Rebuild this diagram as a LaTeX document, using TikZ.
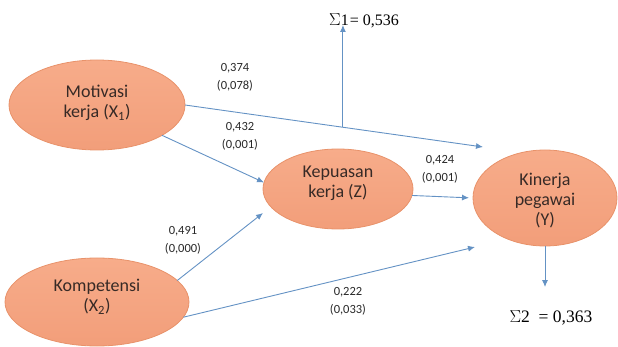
\documentclass[tikz,border=0pt]{standalone}
\usepackage{fontspec}
\setmainfont{Carlito}
\newfontfamily\sigmafont{Liberation Serif}
\usetikzlibrary{arrows.meta,shapes.geometric,calc}
\definecolor{arrowblue}{RGB}{100,146,196}
\definecolor{elltop}{RGB}{247,172,138}
\definecolor{ellbot}{RGB}{242,158,122}
\definecolor{elldraw}{RGB}{232,146,106}
\definecolor{elltext}{RGB}{55,42,38}
\definecolor{labtext}{RGB}{40,40,40}
\begin{document}
\begin{tikzpicture}[x=1pt,y=-1pt,
 var/.style={ellipse, draw=elldraw, line width=0.8pt, top color=elltop, bottom color=ellbot, inner sep=0pt, outer sep=0pt},
 vtext/.style={text=elltext, font=\fontsize{18}{20}\selectfont, align=center, inner sep=0pt},
 coef/.style={text=labtext, font=\fontsize{12.5}{18}\selectfont, align=center, inner sep=0pt},
 sig/.style={font=\sigmafont\fontsize{17.5}{20}\selectfont, inner sep=0pt},
 arr/.style={draw=arrowblue, line width=0.9pt, -{Latex[length=7pt,width=6pt]}}]
\useasboundingbox (0,0) rectangle (618,347);

% variables
\node[var, minimum width=176pt, minimum height=90pt] (mot) at (97,105) {};
\node[vtext] (motT) at (97,103) {Motivasi\\kerja (X\textsubscript{1})};
\node[var, minimum width=150pt, minimum height=80pt] (kep) at (338,189) {};
\node[vtext] (kepT) at (338,183) {Kepuasan\\kerja (Z)};
\node[var, minimum width=144pt, minimum height=96pt] (kin) at (545,198) {};
\node[vtext] (kinT) at (545,201) {Kinerja\\pegawai\\(Y)};
\node[var, minimum width=184pt, minimum height=88pt] (kom) at (97,302) {};
\node[vtext] (komT) at (97,297) {Kompetensi\\(X\textsubscript{2})};

% sums
\node[sig, font=\sigmafont\fontsize{16}{20}\selectfont] (s1) at (364,21) {$\Sigma$1\kern1pt= 0,536};
\node[sig] (s2) at (551,318) {$\Sigma$2\ \ = 0,363};

% free ends
\coordinate (t1) at (483,147);
\coordinate (t2) at (263,213);
\coordinate (t3) at (475,247);
\coordinate (t4) at (545,287);

% connectors
\draw[arr] (mot.east) -- coordinate[pos=0.53] (c1) (t1);
\draw[arr] (c1) -- ($(c1 |- s1.center)+(0,4)$);
\draw[arr] (mot.-25) -- (kep.175);
\draw[arr] (kom.15) -- (t2);
\draw[arr] (kom.-10) -- (t3);
\draw[arr, shorten >=4pt] (kep.-5) -- (kin.west);
\draw[arr] (kin.south) -- (t4);

% coefficients
\node[coef] (l1) at (235,77) {0,374\\(0,078)};
\node[coef] (l2) at (240,136) {0,432\\(0,001)};
\node[coef] (l3) at (440,169) {0,424\\(0,001)};
\node[coef] (l4) at (183,240) {0,491\\(0,000)};
\node[coef] (l5) at (348,301) {0,222\\(0,033)};
\end{tikzpicture}
\end{document}
